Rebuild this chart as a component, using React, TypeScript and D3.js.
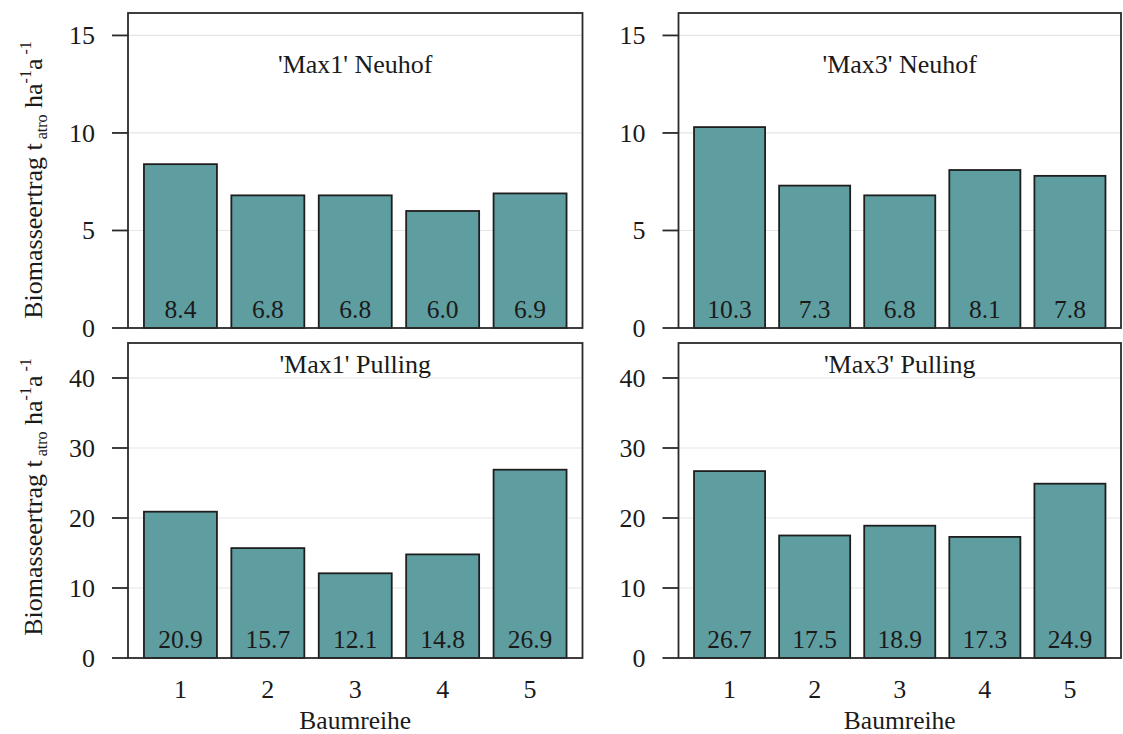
import React from "react";
import * as d3 from "d3";

const categories = ["1", "2", "3", "4", "5"];
const max1Neuhof = [8.4, 6.8, 6.8, 6.0, 6.9];
const max3Neuhof = [10.3, 7.3, 6.8, 8.1, 7.8];
const max1Pulling = [20.9, 15.7, 12.1, 14.8, 26.9];
const max3Pulling = [26.7, 17.5, 18.9, 17.3, 24.9];
const neuhofTicks = [0, 5, 10, 15];
const pullingTicks = [0, 10, 20, 30, 40];
const neuhofMax = 16.15;
const pullingMax = 45;
const panelTitles = ["'Max1' Neuhof", "'Max3' Neuhof", "'Max1' Pulling", "'Max3' Pulling"];
const xTitle = "Baumreihe";

const FONT = "'Liberation Serif', 'Times New Roman', serif";
const FILL = "#5F9EA0";
const TXT = "#1a1a1a";

type PanelProps = {
  left: number; right: number; top: number; bottom: number;
  values: number[]; ticks: number[]; ymax: number; title: string; titleY: number;
  showX: boolean;
};

function Panel({ left, right, top, bottom, values, ticks, ymax, title, titleY, showX }: PanelProps) {
  const x = d3.scaleBand<string>().domain(categories).range([left, right]).paddingInner(0.165).paddingOuter(0.1825);
  const y = d3.scaleLinear().domain([0, ymax]).range([bottom, top]);
  return (
    <g>
      {ticks.filter((t) => t > 0).map((t) => (
        <line key={"g" + t} x1={left} x2={right} y1={y(t)} y2={y(t)} stroke="#e6e6e6" strokeWidth={1.2} />
      ))}
      {values.map((v, i) => (
        <rect key={"b" + i} x={x(categories[i])!} width={x.bandwidth()} y={y(v)} height={y(0) - y(v)}
          fill={FILL} stroke="#1e1e1e" strokeWidth={1.8} />
      ))}
      {values.map((v, i) => (
        <text key={"v" + i} x={x(categories[i])! + x.bandwidth() / 2} y={bottom - 10} textAnchor="middle"
          fontFamily={FONT} fontSize={25.5} fill={TXT}>{v.toFixed(1)}</text>
      ))}
      <rect x={left} y={top} width={right - left} height={bottom - top} fill="none" stroke="#2a2a2a" strokeWidth={1.8} />
      {ticks.map((t) => (
        <g key={"t" + t}>
          <line x1={left - 16} x2={left} y1={y(t)} y2={y(t)} stroke="#2a2a2a" strokeWidth={1.8} />
          <text x={left - 33} y={y(t) + 9} textAnchor="end" fontFamily={FONT} fontSize={26} fill={TXT}>{t}</text>
        </g>
      ))}
      <text x={(left + right) / 2} y={titleY} textAnchor="middle" fontFamily={FONT} fontSize={26} fill={TXT}>{title}</text>
      {showX && categories.map((c) => (
        <text key={"x" + c} x={x(c)! + x.bandwidth() / 2} y={bottom + 40} textAnchor="middle" fontFamily={FONT} fontSize={26} fill={TXT}>{c}</text>
      ))}
      {showX && (
        <text x={(left + right) / 2} y={bottom + 71} textAnchor="middle" fontFamily={FONT} fontSize={25.5} fill={TXT}>{xTitle}</text>
      )}
    </g>
  );
}

function YTitle({ cx, cy }: { cx: number; cy: number }) {
  return (
    <text transform={`translate(${cx},${cy}) rotate(-90)`} textAnchor="middle" fontFamily={FONT} fontSize={26} fill={TXT}>
      <tspan>Biomasseertrag t</tspan>
      <tspan fontSize={16} dy={5}> atro</tspan>
      <tspan dy={-5}> ha</tspan>
      <tspan fontSize={16} dy={-11}>-1</tspan>
      <tspan dy={11}>a</tspan>
      <tspan fontSize={16} dy={-11}> -1</tspan>
    </text>
  );
}

export default function App() {
  const L1 = 128, R1 = 582.5, L2 = 678.5, R2 = 1121;
  const T1 = 13, B1 = 328, T2 = 343, B2 = 658;
  return (
    <svg width={1123} height={734} style={{ position: "absolute", left: 0, top: 0, background: "#fff" }}>
      <rect width={1123} height={734} fill="#fff" />
      <Panel left={L1} right={R1} top={T1} bottom={B1} values={max1Neuhof} ticks={neuhofTicks} ymax={neuhofMax} title={panelTitles[0]} titleY={73} showX={false} />
      <Panel left={L2} right={R2} top={T1} bottom={B1} values={max3Neuhof} ticks={neuhofTicks} ymax={neuhofMax} title={panelTitles[1]} titleY={73} showX={false} />
      <Panel left={L1} right={R1} top={T2} bottom={B2} values={max1Pulling} ticks={pullingTicks} ymax={pullingMax} title={panelTitles[2]} titleY={373} showX={true} />
      <Panel left={L2} right={R2} top={T2} bottom={B2} values={max3Pulling} ticks={pullingTicks} ymax={pullingMax} title={panelTitles[3]} titleY={373} showX={true} />
      <YTitle cx={42} cy={180} />
      <YTitle cx={42} cy={497} />
    </svg>
  );
}
